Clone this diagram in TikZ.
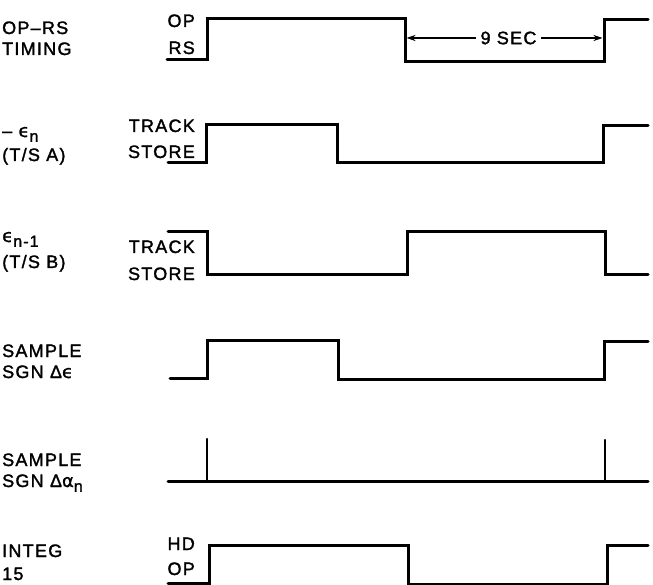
\documentclass[tikz,border=0pt]{standalone}
\usepackage{fontspec}
\setmainfont{Liberation Sans}[LetterSpace=7,FakeBold=1.6]
\newfontfamily\grk{DejaVu Sans}[FakeBold=1.2]
\usetikzlibrary{arrows.meta}
\newcommand{\sbs}[1]{\raisebox{-0.5ex}{\fontsize{16}{16}\selectfont #1}}
\begin{document}
\begin{tikzpicture}[x=1pt,y=-1pt,
  lbl/.style={inner sep=0pt,font=\fontsize{18}{20}\selectfont,anchor=base west},
  lvl/.style={inner sep=0pt,font=\fontsize{18}{20}\selectfont,anchor=base east},
  wave/.style={line width=3pt,line join=miter,line cap=round},
  spike/.style={line width=2.2pt,line cap=round},
  span/.style={line width=1.2pt,{Stealth[length=9pt,width=6pt]}-{Stealth[length=9pt,width=6pt]}}]
\useasboundingbox (0,0) rectangle (653,585);
% row labels
\node[lbl] (r1a) at (2,34) {OP–RS};
\node[lbl] (r1b) at (2,55) {TIMING};
\node[lbl] (r2a) at (2,137) {– {\grk ϵ}\sbs{n}};
\node[lbl] (r2b) at (2,161) {(T/S A)};
\node[lbl] (r3a) at (2,242) {{\grk ϵ}\sbs{n-1}};
\node[lbl] (r3b) at (2,268) {(T/S B)};
\node[lbl] (r4a) at (2,357) {SAMPLE};
\node[lbl] (r4b) at (2,378) {SGN Δ{\grk ϵ}};
\node[lbl] (r5a) at (2,466) {SAMPLE};
\node[lbl] (r5b) at (2,487) {SGN Δ{\grk α}\sbs{n}};
\node[lbl] (r6a) at (2,557) {INTEG};
\node[lbl] (r6b) at (2,580) {15};
% level labels
\node[lvl] (l1a) at (195,27) {OP};
\node[lvl] (l1b) at (195,54) {RS};
\node[lvl] (l2a) at (195,132) {TRACK};
\node[lvl] (l2b) at (195,158) {STORE};
\node[lvl] (l3a) at (195,253) {TRACK};
\node[lvl] (l3b) at (195,280) {STORE};
\node[lvl] (l6a) at (195,550) {HD};
\node[lvl] (l6b) at (195,575) {OP};
% waveforms
\draw[wave] (167,60) -- (207,60) -- (207,19) -- (405,19) -- (405,62) -- (604,62) -- (604,20) -- (648,20);
\draw[wave] (168,163) -- (206,163) -- (206,125) -- (337,125) -- (337,163) -- (603,163) -- (603,126) -- (648,126);
\draw[wave] (168,232) -- (207,232) -- (207,275) -- (407,275) -- (407,232) -- (605,232) -- (605,275) -- (648,275);
\draw[wave] (170,378) -- (207,378) -- (207,340) -- (338,340) -- (338,379) -- (604,379) -- (604,341) -- (648,341);
\draw[wave] (168,481) -- (648,481);
\draw[spike] (207,481) -- (207,439);
\draw[spike] (605,481) -- (605,440);
\draw[wave] (168,583) -- (209,583) -- (209,545) -- (408,545) -- (408,584) -- (607,584) -- (607,545) -- (648,545);
% 9 SEC span
\coordinate (s0) at (406.5,38);
\coordinate (s1) at (602.5,38);
\draw[span] (s0) -- (s1) node[midway,fill=white,inner xsep=5pt,inner ysep=2pt,font=\fontsize{18}{20}\selectfont,xshift=4pt] (nine) {9 SEC};
\end{tikzpicture}
\end{document}
